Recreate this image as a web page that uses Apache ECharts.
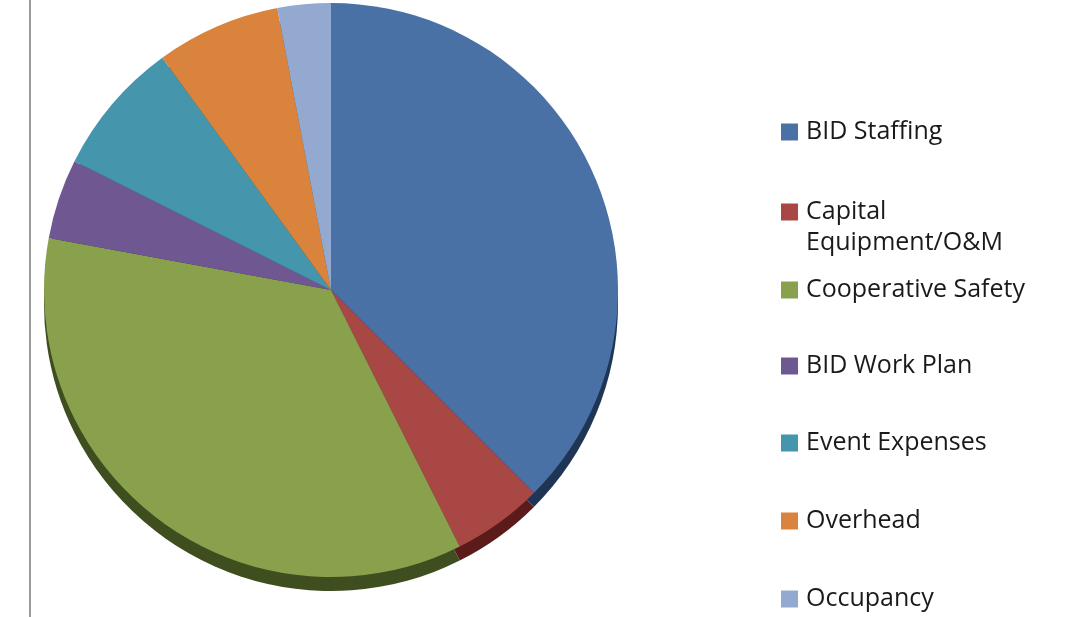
<!DOCTYPE html>
<html>
<head>
<meta charset="utf-8">
<script src="https://cdn.jsdelivr.net/npm/echarts@6/dist/echarts.min.js"></script>
<style>
html,body{margin:0;padding:0;background:#fff;}
#chart{width:1069px;height:617px;}
</style>
</head>
<body>
<div id="chart"></div>
<script>
const categories = ['BID Staffing', 'Capital Equipment/O&M', 'Cooperative Safety', 'BID Work Plan', 'Event Expenses', 'Overhead', 'Occupancy'];
const values = [37.5, 5.1, 35.3, 4.5, 7.6, 7.0, 3.0];
const legendLabels = ['BID Staffing', 'Capital\nEquipment/O&M', 'Cooperative Safety', 'BID Work Plan', 'Event Expenses', 'Overhead', 'Occupancy'];

const colors = ['#4a71a5', '#a94744', '#89a14d', '#6f5892', '#4596ad', '#d9833d', '#93a9cf'];
const darkColors = ['#1e3556', '#5c1b1b', '#3e4e1e', '#35284a', '#1f4a56', '#6e3f17', '#4a5670'];

const chart = echarts.init(document.getElementById('chart'));

const data = categories.map((c, i) => ({ name: c, value: values[i], itemStyle: { color: colors[i] } }));
const shadowData = categories.map((c, i) => ({ name: c + ' ', value: values[i], itemStyle: { color: darkColors[i] } }));

const LH = 31;
const legendCenters = [132, 212, 290, 366, 443, 521, 599];
const legends = categories.map((c, i) => {
  const lines = legendLabels[i].split('\n').length;
  // pad multi-line labels with leading blank lines so the first line sits beside the swatch
  const text = '\n'.repeat(lines - 1) + legendLabels[i];
  const total = 2 * lines - 1;
  return {
    data: [c],
    orient: 'vertical',
    left: 781,
    top: legendCenters[i] - total * LH / 2,
    itemWidth: 17,
    itemHeight: 17,
    itemGap: 0,
    padding: 0,
    selectedMode: false,
    icon: 'rect',
    formatter: function () { return text; },
    textStyle: {
      fontFamily: 'Open Sans',
      fontSize: 25,
      color: '#1a1a1a',
      lineHeight: LH,
      padding: [0, 0, 0, 3]
    }
  };
});

chart.setOption({
  animation: false,
  backgroundColor: '#ffffff',
  legend: legends,
  graphic: [{
    type: 'line',
    shape: { x1: 30, y1: 0, x2: 30, y2: 617 },
    style: { stroke: '#9a9a9a', lineWidth: 2 }
  }],
  series: [{
    type: 'pie',
    silent: true,
    legendHoverLink: false,
    center: [331, 304],
    radius: 287,
    startAngle: 90,
    clockwise: true,
    label: { show: false },
    labelLine: { show: false },
    itemStyle: { borderWidth: 0 },
    data: shadowData,
    z: 1
  }, {
    type: 'pie',
    center: [331, 290],
    radius: 287,
    startAngle: 90,
    clockwise: true,
    label: { show: false },
    labelLine: { show: false },
    itemStyle: { borderWidth: 0 },
    emphasis: { disabled: true },
    data: data,
    z: 2
  }]
});
</script>
</body>
</html>
